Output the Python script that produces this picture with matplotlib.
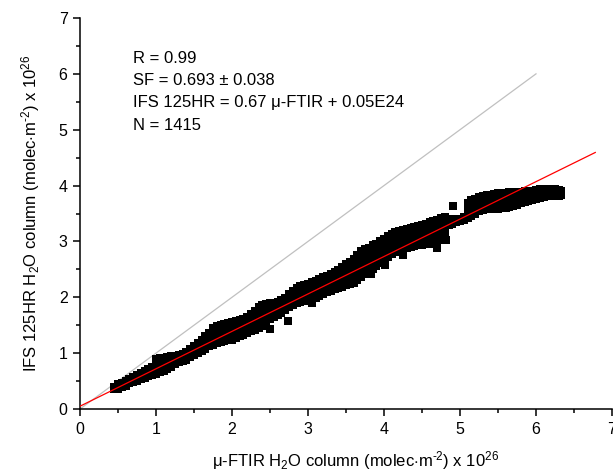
import matplotlib
matplotlib.use("Agg")
import matplotlib.pyplot as plt
from matplotlib.ticker import MultipleLocator

plt.rcParams['font.family'] = ['Liberation Sans', 'DejaVu Sans']
plt.rcParams['mathtext.fontset'] = 'custom'
plt.rcParams['mathtext.rm'] = 'Liberation Sans'
plt.rcParams['mathtext.it'] = 'Liberation Sans:italic'

# Scatter band, read column by column (x -> list of y)
band_x = [0.45, 0.50, 0.55, 0.60, 0.65, 0.70, 0.75, 0.80, 0.85, 0.90, 0.95,
          1.00, 1.05, 1.10, 1.15, 1.20, 1.25, 1.30, 1.35, 1.40, 1.45, 1.50,
          1.55, 1.60, 1.65, 1.70, 1.75, 1.80, 1.85, 1.90, 1.95, 2.00, 2.05,
          2.10, 2.15, 2.20, 2.25, 2.30, 2.35, 2.40, 2.45, 2.50, 2.55, 2.60,
          2.65, 2.70, 2.75, 2.80, 2.85, 2.90, 2.95, 3.00, 3.05, 3.10, 3.15,
          3.20, 3.25, 3.30, 3.35, 3.40, 3.45, 3.50, 3.55, 3.60, 3.65, 3.70,
          3.75, 3.80, 3.85, 3.90, 3.95, 4.00, 4.05, 4.10, 4.15, 4.20, 4.25,
          4.30, 4.35, 4.40, 4.45, 4.50, 4.55, 4.60, 4.65, 4.70, 4.75, 4.80,
          4.85, 4.90, 4.95, 5.00, 5.05, 5.10, 5.15, 5.20, 5.25, 5.30, 5.35,
          5.40, 5.45, 5.50, 5.55, 5.60, 5.65, 5.70, 5.75, 5.80, 5.85, 5.90,
          5.95, 6.00, 6.05, 6.10, 6.15, 6.20, 6.25, 6.30, 6.33]
band_y = [
    [0.35, 0.40], [0.36, 0.44], [0.39, 0.46], [0.42, 0.50], [0.46, 0.54],
    [0.48, 0.57], [0.51, 0.61], [0.54, 0.64], [0.56, 0.68], [0.59, 0.72],
    [0.61, 0.70, 0.76],
    [0.63, 0.73, 0.82, 0.90], [0.66, 0.75, 0.83, 0.91], [0.68, 0.77, 0.85, 0.92],
    [0.72, 0.80, 0.87, 0.93], [0.76, 0.86, 0.94], [0.80, 0.88, 0.95],
    [0.84, 0.92, 0.96], [0.86, 0.93, 0.99], [0.88, 0.95, 1.02],
    [0.93, 1.01, 1.08], [0.96, 1.04, 1.12],
    [1.00, 1.09, 1.18], [1.04, 1.14, 1.24], [1.08, 1.19, 1.30], [1.12, 1.24, 1.36],
    [1.15, 1.25, 1.35, 1.45], [1.18, 1.28, 1.39, 1.49], [1.20, 1.30, 1.40, 1.50],
    [1.21, 1.31, 1.42, 1.52], [1.23, 1.33, 1.44, 1.54], [1.24, 1.35, 1.46, 1.56],
    [1.27, 1.37, 1.47, 1.57], [1.30, 1.40, 1.50, 1.59], [1.33, 1.42, 1.52, 1.61],
    [1.36, 1.45, 1.55, 1.64], [1.40, 1.50, 1.60, 1.70], [1.42, 1.53, 1.65, 1.76],
    [1.45, 1.57, 1.70, 1.82], [1.48, 1.60, 1.73, 1.86], [1.52, 1.64, 1.76, 1.88],
    [1.61, 1.70, 1.80, 1.89], [1.65, 1.74, 1.82, 1.90], [1.68, 1.76, 1.84, 1.92],
    [1.72, 1.80, 1.88, 1.96], [1.78, 1.85, 1.92, 1.99], [1.82, 1.90, 1.98, 2.06],
    [1.86, 1.95, 2.04, 2.12], [1.89, 1.98, 2.08, 2.17], [1.91, 2.01, 2.10, 2.20],
    [1.94, 2.03, 2.13, 2.22], [1.96, 2.05, 2.15, 2.24], [1.97, 2.07, 2.17, 2.27],
    [1.98, 2.09, 2.20, 2.30], [2.02, 2.12, 2.23, 2.33], [2.06, 2.16, 2.26, 2.36],
    [2.09, 2.19, 2.29, 2.39], [2.12, 2.22, 2.32, 2.42], [2.14, 2.24, 2.35, 2.45],
    [2.16, 2.27, 2.38, 2.49], [2.19, 2.31, 2.42, 2.54], [2.22, 2.34, 2.47, 2.59],
    [2.24, 2.37, 2.51, 2.64], [2.26, 2.40, 2.55, 2.69], [2.31, 2.46, 2.61, 2.76],
    [2.36, 2.51, 2.67, 2.82], [2.41, 2.56, 2.71, 2.86], [2.46, 2.60, 2.75, 2.89],
    [2.51, 2.65, 2.79, 2.93], [2.56, 2.69, 2.83, 2.96], [2.62, 2.75, 2.88, 3.00],
    [2.68, 2.80, 2.92, 3.04], [2.73, 2.85, 2.97, 3.09], [2.78, 2.90, 3.02, 3.14],
    [2.81, 2.93, 3.05, 3.17], [2.84, 2.96, 3.07, 3.19], [2.86, 2.98, 3.09, 3.21],
    [2.88, 3.00, 3.11, 3.22], [2.90, 3.01, 3.13, 3.24], [2.91, 3.03, 3.14, 3.26],
    [2.93, 3.05, 3.16, 3.28], [2.94, 3.06, 3.18, 3.30], [2.95, 3.07, 3.20, 3.32],
    [2.96, 3.09, 3.21, 3.34], [2.98, 3.11, 3.24, 3.37], [3.00, 3.13, 3.26, 3.39],
    [3.03, 3.16, 3.29, 3.42], [3.06, 3.19, 3.31, 3.44],
    [3.30, 3.40], [3.32, 3.40], [3.34, 3.40], [3.36, 3.41], [3.38, 3.44],
    [3.42, 3.51, 3.60, 3.69], [3.46, 3.55, 3.65, 3.74], [3.50, 3.59, 3.67, 3.76],
    [3.54, 3.63, 3.71, 3.80], [3.56, 3.65, 3.73, 3.82], [3.58, 3.67, 3.76, 3.84],
    [3.58, 3.67, 3.76, 3.84], [3.58, 3.67, 3.76, 3.85], [3.58, 3.67, 3.77, 3.86],
    [3.59, 3.68, 3.77, 3.86], [3.60, 3.69, 3.78, 3.87], [3.62, 3.71, 3.79, 3.88],
    [3.64, 3.72, 3.80, 3.88], [3.66, 3.78, 3.89], [3.68, 3.79, 3.89],
    [3.70, 3.81, 3.90], [3.72, 3.82, 3.90],
    [3.74, 3.84, 3.91], [3.76, 3.85, 3.92], [3.78, 3.87, 3.93], [3.80, 3.88, 3.94],
    [3.82, 3.89, 3.94], [3.82, 3.89, 3.94], [3.82, 3.88, 3.93], [3.82, 3.88, 3.92],
    [3.84, 3.90],
]
outlier_x = [2.50, 2.74, 3.05, 3.83, 4.01, 4.25, 4.81, 4.91, 4.70]
outlier_y = [1.43, 1.57, 1.90, 2.42, 2.57, 2.75, 3.02, 3.64, 2.88]

# Reference lines
one_to_one_x = [0, 6]
fit_slope = 0.67
fit_intercept = 0.05
fit_x = [0, 6.78]

stats_lines = ["R = 0.99",
               "SF = 0.693 \u00b1 0.038",
               "IFS 125HR = 0.67 \u03bc-FTIR + 0.05E24",
               "N = 1415"]

x_pts = []
y_pts = []
for xv, ys in zip(band_x, band_y):
    for yv in ys:
        x_pts.append(xv)
        y_pts.append(yv)
x_pts += outlier_x
y_pts += outlier_y

fig = plt.figure(figsize=(6.13, 4.75), dpi=100)
ax = fig.add_axes([80/613, 66/475, 532/613, 391/475])

ax.plot(one_to_one_x, one_to_one_x, color='#c0c0c0', lw=0.9, zorder=1)
ax.plot(x_pts, y_pts, linestyle='none', marker='s', markersize=6.2,
        color='black', markeredgewidth=0, zorder=2)
ax.plot(fit_x, [fit_slope * v + fit_intercept for v in fit_x],
        color='red', lw=0.9, zorder=3)

ax.set_xlim(0, 7)
ax.set_ylim(0, 7)
ax.xaxis.set_major_locator(MultipleLocator(1))
ax.xaxis.set_minor_locator(MultipleLocator(0.5))
ax.yaxis.set_major_locator(MultipleLocator(1))
ax.yaxis.set_minor_locator(MultipleLocator(0.5))
for s in ['top', 'right']:
    ax.spines[s].set_visible(False)
for s in ['left', 'bottom']:
    ax.spines[s].set_linewidth(1.1)
ax.tick_params(which='major', direction='out', length=5, width=1.1,
               labelsize=11.5, pad=4)
ax.tick_params(which='minor', direction='out', length=3, width=1.1)

for i, t in enumerate(stats_lines):
    ax.text(0.70, 6.28 - i * 0.40, t, fontsize=12, va='center', ha='left')

ax.set_xlabel(r"$\mathregular{\mu}$-FTIR H$_2$O column (molec$\cdot$m$^{\text{-2}}$) x 10$^{26}$",
              fontsize=12)
ax.xaxis.set_label_coords(0.517, -0.102)
ax.set_ylabel(r"IFS 125HR H$_2$O column (molec$\cdot$m$^{\text{-2}}$) x 10$^{26}$",
              fontsize=12, labelpad=12)

fig.savefig("out.png", dpi=100)
